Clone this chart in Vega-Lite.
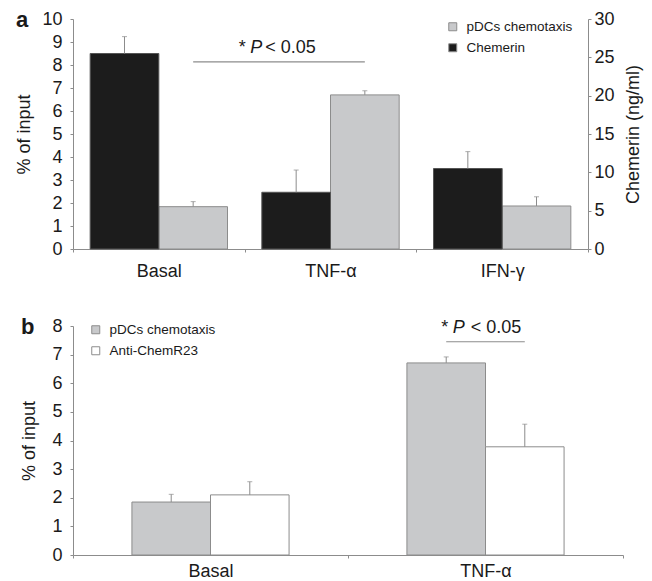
{
  "$schema": "https://vega.github.io/schema/vega-lite/v6.json",
  "padding": {"left": 15, "top": 9, "right": 5, "bottom": 0},
  "background": "white",
  "config": {
    "font": "Liberation Sans",
    "view": {"stroke": null},
    "axis": {
      "labelFont": "Liberation Sans", "titleFont": "Liberation Sans",
      "labelFontSize": 18, "titleFontSize": 18, "titleFontWeight": "normal",
      "labelColor": "#1a1a1a", "titleColor": "#1a1a1a", "labelOverlap": false,
      "domainColor": "#8c8c8c", "tickColor": "#8c8c8c", "tickSize": 3, "grid": false
    },
    "legend": {
      "labelFont": "Liberation Sans", "labelFontSize": 13.5, "labelColor": "#1a1a1a",
      "symbolType": "square", "symbolSize": 64, "symbolStrokeColor": "#8c8c8c", "symbolStrokeWidth": 1,
      "symbolOpacity": 1, "padding": 0, "rowPadding": 6, "labelOffset": 7, "title": null
    },
    "title": {"font": "Liberation Sans", "fontSize": 22, "fontWeight": "bold", "color": "#1a1a1a"}
  },
  "datasets": {
    "a": [
      {"cond": "Basal", "series": "Chemerin", "value": 25.5, "err": 27.7},
      {"cond": "Basal", "series": "pDCs chemotaxis", "value": 1.84, "err": 2.06},
      {"cond": "TNF-α", "series": "Chemerin", "value": 7.4, "err": 10.3},
      {"cond": "TNF-α", "series": "pDCs chemotaxis", "value": 6.7, "err": 6.88},
      {"cond": "IFN-γ", "series": "Chemerin", "value": 10.5, "err": 12.7},
      {"cond": "IFN-γ", "series": "pDCs chemotaxis", "value": 1.87, "err": 2.27}
    ],
    "sigA": [
      {"cond": "Basal", "series": "pDCs chemotaxis", "value": 8.14},
      {"cond": "TNF-α", "series": "pDCs chemotaxis", "value": 8.14}
    ],
    "sigAText": [
      {"cond": "TNF-α", "series": "Chemerin", "value": 8.53}
    ],
    "b": [
      {"cond": "Basal", "series": "pDCs chemotaxis", "value": 1.85, "err": 2.12},
      {"cond": "Basal", "series": "Anti-ChemR23", "value": 2.1, "err": 2.56},
      {"cond": "TNF-α", "series": "pDCs chemotaxis", "value": 6.71, "err": 6.92},
      {"cond": "TNF-α", "series": "Anti-ChemR23", "value": 3.78, "err": 4.57}
    ],
    "sigB": [
      {"cond": "TNF-α", "series": "pDCs chemotaxis", "value": 7.45},
      {"cond": "TNF-α", "series": "Anti-ChemR23", "value": 7.45}
    ],
    "sigBText": [
      {"cond": "TNF-α", "series": "pDCs chemotaxis", "value": 7.76}
    ]
  },
  "vconcat": [
    {
      "width": 515, "height": 230,
      "title": {"text": "a", "anchor": "start", "frame": "bounds", "offset": -22},
      "data": {"name": "a"},
      "encoding": {
        "x": {"field": "cond", "type": "nominal", "sort": ["Basal", "TNF-α", "IFN-γ"],
              "scale": {"domain": ["Basal", "TNF-α", "IFN-γ"], "paddingInner": 0, "paddingOuter": 0},
              "axis": {"title": null, "labelAngle": 0, "tickBand": "extent", "labelPadding": 10}},
        "xOffset": {"field": "series", "type": "nominal",
                    "scale": {"domain": ["Chemerin", "pDCs chemotaxis"], "paddingInner": 0, "paddingOuter": 0.25}}
      },
      "layer": [
        {
          "encoding": {
            "y": {"field": "value", "type": "quantitative", "scale": {"domain": [0, 10], "nice": false},
                  "axis": {"title": "% of input", "values": [0,1,2,3,4,5,6,7,8,9,10], "labelOverlap": false, "labelPadding": 8, "titlePadding": 8}}
          },
          "layer": [
            {
              "transform": [{"filter": "datum.series === 'pDCs chemotaxis'"}],
              "mark": {"type": "bar", "stroke": "#8c8c8c", "strokeWidth": 1},
              "encoding": {
                "color": {"field": "series", "type": "nominal",
                          "scale": {"domain": ["pDCs chemotaxis", "Chemerin"], "range": ["#c8c9cb", "#1c1c1c"]},
                          "legend": {"orient": "none", "legendX": 373, "legendY": 1}}
              }
            },
            {
              "transform": [{"filter": "datum.series === 'pDCs chemotaxis'"}],
              "mark": {"type": "rule", "color": "#8c8c8c", "strokeWidth": 1},
              "encoding": {"y2": {"field": "err"}}
            },
            {
              "transform": [{"filter": "datum.series === 'pDCs chemotaxis'"}],
              "mark": {"type": "tick", "color": "#8c8c8c", "size": 5, "thickness": 1},
              "encoding": {
                "y": {"field": "err", "type": "quantitative", "scale": {"domain": [0, 10], "nice": false},
                      "axis": {"title": "% of input", "values": [0,1,2,3,4,5,6,7,8,9,10], "labelOverlap": false, "labelPadding": 8, "titlePadding": 8}}
              }
            },
            {
              "data": {"name": "sigA"},
              "mark": {"type": "line", "color": "#8c8c8c", "strokeWidth": 1.2}
            },
            {
              "data": {"name": "sigAText"},
              "mark": {"type": "text", "text": "*", "fontSize": 18, "align": "center", "baseline": "alphabetic", "dx": -54, "color": "#1a1a1a"}
            },
            {
              "data": {"name": "sigAText"},
              "mark": {"type": "text", "text": "P", "fontSize": 18, "fontStyle": "italic", "align": "left", "baseline": "alphabetic", "dx": -46, "color": "#1a1a1a"}
            },
            {
              "data": {"name": "sigAText"},
              "mark": {"type": "text", "text": "< 0.05", "fontSize": 18, "align": "left", "baseline": "alphabetic", "dx": -31, "color": "#1a1a1a"}
            }
          ]
        },
        {
          "encoding": {
            "y": {"field": "value", "type": "quantitative", "scale": {"domain": [0, 30], "nice": false},
                  "axis": {"orient": "right", "title": "Chemerin (ng/ml)", "values": [0,5,10,15,20,25,30], "labelOverlap": false, "labelPadding": 3, "titlePadding": 10, "titleAngle": 270, "titleBaseline": "top"}}
          },
          "layer": [
            {
              "transform": [{"filter": "datum.series === 'Chemerin'"}],
              "mark": {"type": "bar", "stroke": "#555555", "strokeWidth": 1},
              "encoding": {"color": {"field": "series", "type": "nominal"}}
            },
            {
              "transform": [{"filter": "datum.series === 'Chemerin'"}],
              "mark": {"type": "rule", "color": "#8c8c8c", "strokeWidth": 1},
              "encoding": {"y2": {"field": "err"}}
            },
            {
              "transform": [{"filter": "datum.series === 'Chemerin'"}],
              "mark": {"type": "tick", "color": "#8c8c8c", "size": 5, "thickness": 1},
              "encoding": {
                "y": {"field": "err", "type": "quantitative", "scale": {"domain": [0, 30], "nice": false},
                      "axis": {"orient": "right", "title": "Chemerin (ng/ml)", "values": [0,5,10,15,20,25,30], "labelOverlap": false, "labelPadding": 3, "titlePadding": 10, "titleAngle": 270, "titleBaseline": "top"}}
              }
            }
          ]
        }
      ],
      "resolve": {"scale": {"y": "independent"}}
    },
    {
      "width": 550, "height": 229,
      "title": {"text": "b", "anchor": "start", "frame": "bounds", "offset": -22},
      "data": {"name": "b"},
      "encoding": {
        "x": {"field": "cond", "type": "nominal", "sort": ["Basal", "TNF-α"],
              "scale": {"domain": ["Basal", "TNF-α"], "paddingInner": 0, "paddingOuter": 0},
              "axis": {"title": null, "labelAngle": 0, "tickBand": "extent", "labelPadding": 4}},
        "xOffset": {"field": "series", "type": "nominal",
                    "scale": {"domain": ["pDCs chemotaxis", "Anti-ChemR23"], "paddingInner": 0, "paddingOuter": 0.75}},
        "y": {"field": "value", "type": "quantitative", "scale": {"domain": [0, 8], "nice": false},
              "axis": {"title": "% of input", "values": [0,1,2,3,4,5,6,7,8], "labelOverlap": false, "labelPadding": 8, "titlePadding": 13}}
      },
      "layer": [
        {
          "mark": {"type": "bar", "stroke": "#8c8c8c", "strokeWidth": 1},
          "encoding": {
            "color": {"field": "series", "type": "nominal",
                      "scale": {"domain": ["pDCs chemotaxis", "Anti-ChemR23"], "range": ["#c8c9cb", "#ffffff"]},
                      "legend": {"orient": "none", "legendX": 16, "legendY": -3}}
          }
        },
        {
          "mark": {"type": "rule", "color": "#8c8c8c", "strokeWidth": 1},
          "encoding": {"y2": {"field": "err"}}
        },
        {
          "mark": {"type": "tick", "color": "#8c8c8c", "size": 5, "thickness": 1},
          "encoding": {
            "y": {"field": "err", "type": "quantitative", "scale": {"domain": [0, 8], "nice": false},
                  "axis": {"title": "% of input", "values": [0,1,2,3,4,5,6,7,8], "labelOverlap": false, "labelPadding": 8, "titlePadding": 13}}
          }
        },
        {
          "data": {"name": "sigB"},
          "mark": {"type": "line", "color": "#8c8c8c", "strokeWidth": 1.2}
        },
        {
          "data": {"name": "sigBText"},
          "mark": {"type": "text", "text": "*", "fontSize": 18, "align": "center", "baseline": "alphabetic", "dx": -1.5, "color": "#1a1a1a"}
        },
        {
          "data": {"name": "sigBText"},
          "mark": {"type": "text", "text": "P", "fontSize": 18, "fontStyle": "italic", "align": "left", "baseline": "alphabetic", "dx": 6.5, "color": "#1a1a1a"}
        },
        {
          "data": {"name": "sigBText"},
          "mark": {"type": "text", "text": "< 0.05", "fontSize": 18, "align": "left", "baseline": "alphabetic", "dx": 24.5, "color": "#1a1a1a"}
        }
      ]
    }
  ],
  "spacing": 36,
  "resolve": {"scale": {"color": "independent", "x": "independent", "y": "independent", "xOffset": "independent"}, "legend": {"color": "independent"}}
}
